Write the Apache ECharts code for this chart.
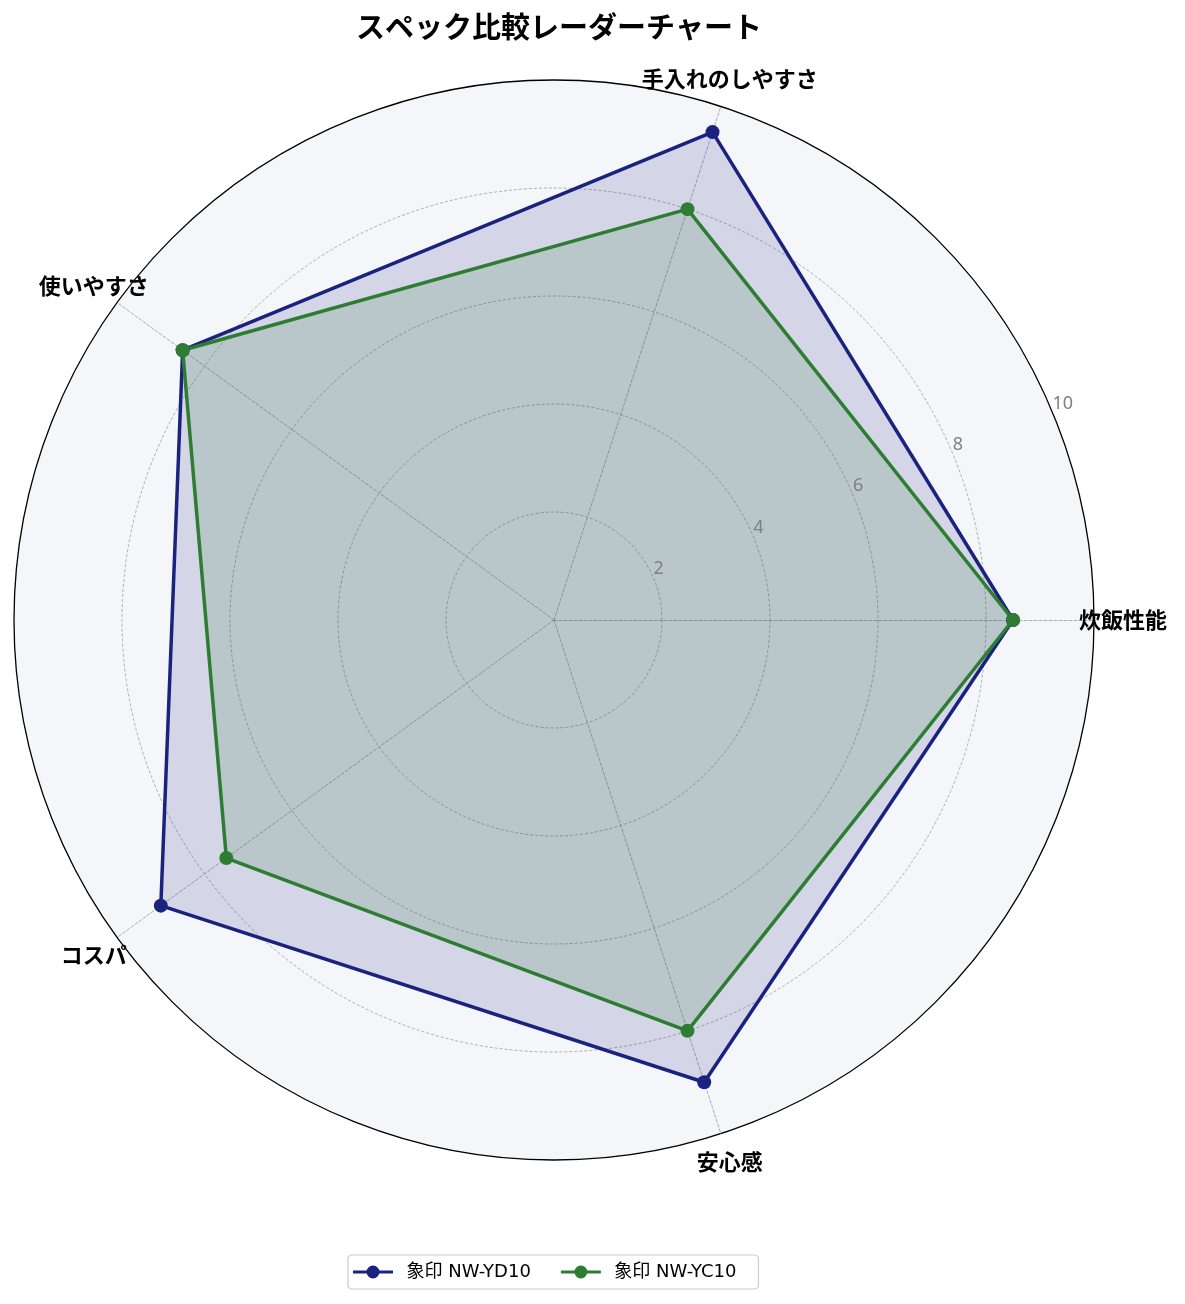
<!DOCTYPE html>
<html>
<head>
<meta charset="utf-8">
<script src="https://cdn.jsdelivr.net/npm/echarts@6/dist/echarts.min.js"></script>
<style>
html,body{margin:0;padding:0;background:#fff;}
#chart{width:1185px;height:1304px;}
</style>
</head>
<body>
<div id="chart"></div>
<script>
const categories = ['炊飯性能', '手入れのしやすさ', '使いやすさ', 'コスパ', '安心感'];
const seriesNames = ['象印 NW-YD10', '象印 NW-YC10'];
const valuesYD10 = [8.5, 9.5, 8.5, 9.0, 9.0];
const valuesYC10 = [8.5, 8.0, 8.5, 7.5, 8.0];
const tickValues = [2, 4, 6, 8, 10];
const colors = ['#1a237e', '#2e7d32'];
const fills = ['rgba(26,35,126,0.15)', 'rgba(46,125,50,0.16)'];

const FONT = '"Noto Sans CJK JP", "Noto Sans", sans-serif';
const LATIN = '"DejaVu Sans", "Noto Sans CJK JP", sans-serif';
const CX = 554, CY = 620, R = 540;
const legendIcon = 'path://M0,5.25 L40,5.25 L40,8.25 L0,8.25 Z M26.5,6.75 A6.5,6.5 0 1,1 13.5,6.75 A6.5,6.5 0 1,1 26.5,6.75 Z';

const chart = echarts.init(document.getElementById('chart'));
chart.setOption({
  backgroundColor: '#ffffff',
  textStyle: { fontFamily: FONT },
  title: {
    text: 'スペック比較レーダーチャート',
    left: CX,
    textAlign: 'center',
    top: 7,
    textStyle: { fontFamily: FONT, fontSize: 29, fontWeight: 'bold', color: '#000' }
  },
  legend: {
    data: seriesNames,
    bottom: 15,
    left: 348,
    icon: legendIcon,
    itemWidth: 41,
    itemHeight: 13,
    itemGap: 30,
    padding: [8, 22, 8, 5],
    borderColor: '#cccccc',
    borderWidth: 1.2,
    borderRadius: 4,
    textStyle: { fontFamily: LATIN, fontSize: 18, color: '#000', padding: [0, 0, 0, 8] }
  },
  polar: { center: [CX, CY], radius: R },
  angleAxis: {
    type: 'value', min: 0, max: 360, startAngle: 22.5, clockwise: false,
    axisLine: { show: true, lineStyle: { color: '#000', width: 1.3 } },
    axisTick: { show: false }, axisLabel: { show: false }, splitLine: { show: false }
  },
  radiusAxis: {
    type: 'value', min: 0, max: 10, interval: 2, z: 10,
    axisLine: { show: false }, axisTick: { show: false }, splitLine: { show: false },
    axisLabel: {
      show: true, color: '#808080', fontSize: 18, fontFamily: '"Noto Sans", sans-serif', margin: 1,
      align: 'left', verticalAlign: 'bottom',
      formatter: function (v) { return tickValues.indexOf(v) >= 0 ? String(v) : ''; }
    }
  },
  radar: {
    center: [CX, CY],
    radius: R,
    startAngle: 0,
    shape: 'circle',
    splitNumber: 5,
    indicator: categories.map(n => ({ name: n, min: 0, max: 10 })),
    nameGap: 29,
    axisName: { color: '#000', fontSize: 22, fontWeight: 'bold', fontFamily: FONT, align: 'center', verticalAlign: 'middle' },
    axisLine: { show: true, lineStyle: { color: '#9a9a9a', width: 0.8, type: [3, 2] } },
    axisTick: { show: false },
    axisLabel: { show: false },
    splitLine: { show: true, lineStyle: { color: ['#9a9a9a', '#9a9a9a', '#9a9a9a', '#9a9a9a', '#9a9a9a', 'rgba(0,0,0,0)'], width: 0.8, type: [3, 2] } },
    splitArea: { show: true, areaStyle: { color: ['#f5f6fa'] } }
  },
  series: [{
    type: 'radar',
    z: 3,
    data: [
      {
        name: seriesNames[0], value: valuesYD10,
        symbol: 'circle', symbolSize: 14,
        itemStyle: { color: colors[0] },
        lineStyle: { color: colors[0], width: 3.5 },
        areaStyle: { color: fills[0], opacity: 1 }
      },
      {
        name: seriesNames[1], value: valuesYC10,
        symbol: 'circle', symbolSize: 14,
        itemStyle: { color: colors[1] },
        lineStyle: { color: colors[1], width: 3.5 },
        areaStyle: { color: fills[1], opacity: 1 }
      }
    ]
  }]
});
</script>
</body>
</html>
